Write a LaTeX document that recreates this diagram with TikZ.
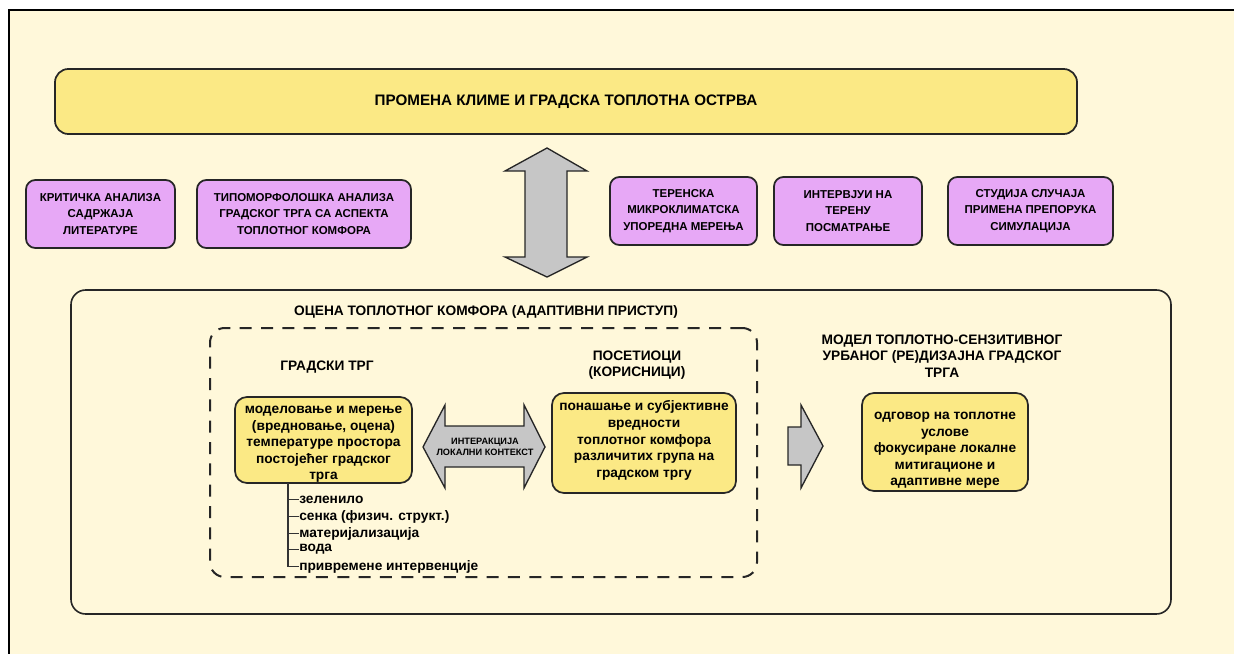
\documentclass[tikz,border=0pt]{standalone}
\usepackage{fontspec}
\setmainfont{Liberation Sans}
\definecolor{cream}{HTML}{FFF8DA}
\definecolor{ylw}{HTML}{FBE985}
\definecolor{lilac}{HTML}{E7A8F6}
\definecolor{grayarrow}{HTML}{C6C6C6}
\tikzset{
  pw/.style={minimum width=#1*0.75pt},
  ph/.style={minimum height=#1*0.75pt},
  pbox/.style={draw=black!85, line width=1.3pt, fill=lilac, rounded corners=7pt,
    align=center, inner sep=0pt, font=\bfseries\fontsize{8.6}{12.5}\selectfont},
  topbox/.style={draw=black!85, line width=1.3pt, fill=ylw, rounded corners=10pt,
    align=center, inner sep=0pt, font=\bfseries\fontsize{11.4}{13}\selectfont},
  ybox/.style={draw=black!85, line width=1.3pt, fill=ylw, rounded corners=9pt,
    align=center, inner sep=0pt, font=\bfseries\fontsize{10.3}{12.4}\selectfont},
  frame/.style={draw=black!85, line width=1.2pt, rounded corners=11pt, inner sep=0pt},
  dashframe/.style={draw=black!85, line width=1.5pt, rounded corners=11pt, inner sep=0pt,
    dash pattern=on 9pt off 7pt},
  head/.style={align=center, inner sep=0pt, font=\bfseries\fontsize{10.3}{12.4}\selectfont},
  item/.style={anchor=west, inner sep=0pt, font=\bfseries\fontsize{10.3}{12}\selectfont},
  blk/.style={draw=black!85, line width=1pt, fill=grayarrow, line join=miter},
  tree/.style={draw=black!80, line width=0.8pt},
  small/.style={align=center, inner sep=0pt, font=\bfseries\fontsize{6.9}{8.2}\selectfont}
}
\begin{document}
\begin{tikzpicture}[x=0.75pt,y=-0.75pt]
\useasboundingbox (0,0) rectangle (1234,653);
\clip (0,0) rectangle (1234,653);
\fill[white] (0,0) rectangle (1234,653);
\draw[fill=cream, line width=1.5pt] (9,10) rectangle (1260,680);

% top box
\node[topbox, pw=1022, ph=65] (top) at (566,101.5) {ПРОМЕНА КЛИМЕ И ГРАДСКА ТОПЛОТНА ОСТРВА};

% purple boxes
\node[pbox, pw=149, ph=68] (p1) at (100.5,214) {КРИТИЧКА АНАЛИЗА\\САДРЖАЈА\\ЛИТЕРАТУРЕ};
\node[pbox, pw=214, ph=68] (p2) at (304,214) {ТИПОМОРФОЛОШКА АНАЛИЗА\\ГРАДСКОГ ТРГА СА АСПЕКТА\\ТОПЛОТНОГ КОМФОРА};
\node[pbox, pw=147, ph=68] (p3) at (683.5,211) {ТЕРЕНСКА\\МИКРОКЛИМАТСКА\\УПОРЕДНА МЕРЕЊА};
\node[pbox, pw=148, ph=68] (p4) at (848,211) {ИНТЕРВЈУИ НА\\ТЕРЕНУ\\ПОСМАТРАЊЕ};
\node[pbox, pw=165, ph=68] (p5) at (1030.5,211) {СТУДИЈА СЛУЧАЈА\\ПРИМЕНА ПРЕПОРУКА\\СИМУЛАЦИЈА};

% vertical double arrow
\draw[blk] (547,148) -- (587,171) -- (567,171) -- (567,257) -- (587,257) -- (547,277)
  -- (505,257) -- (525,257) -- (525,171) -- (505,171) -- cycle;

% assessment frame
\node[frame, pw=1100, ph=324] (assess) at (621,452) {};
\node[head] (atitle) at (486,312) {ОЦЕНА ТОПЛОТНОГ КОМФОРА (АДАПТИВНИ ПРИСТУП)};
\node[dashframe, pw=547, ph=249] (dash) at (483.5,452.5) {};

\node[head] (sq) at (327,367) {ГРАДСКИ ТРГ};
\node[ybox, pw=177, ph=86] (y1) at (323.5,440) {\rule{0pt}{12.2pt}моделовање и мерење\\(вредновање, оцена)\\температуре простора\\постојећег градског\\трга};

\node[item] (i1) at (299,499.5) {зеленило};
\node[item] (i2) at (299,516.5) {сенка (физич. структ.)};
\node[item] (i3) at (299,533.5) {материјализација};
\node[item] (i4) at (299,549.5) {вода};
\node[item] (i5) at (299,566.5) {привремене интервенције};
\coordinate (stem) at (288,483);
\draw[tree] (stem) |- (i5.west);
\foreach \i in {1,2,3,4} { \draw[tree] (stem |- i\i.west) -- (i\i.west); }

% interaction arrow
\draw[blk] (423,447) -- (445,405) -- (445,426) -- (524,426) -- (524,405) -- (545,447)
  -- (524,488) -- (524,467) -- (445,467) -- (445,488) -- cycle;
\node[small] (inter) at (485,447) {ИНТЕРАКЦИЈА\\ЛОКАЛНИ КОНТЕКСТ};

\node[head] (vis) at (637,365) {ПОСЕТИОЦИ\\(КОРИСНИЦИ)};
\node[ybox, pw=184, ph=100] (y2) at (644,443) {понашање и субјективне\\вредности\\топлотног комфора\\различитих група на\\градском тргу\rule[-6pt]{0pt}{0pt}};

% right arrow
\draw[blk] (788,427) -- (801,427) -- (801,405) -- (823,446) -- (801,488) -- (801,465)
  -- (788,465) -- cycle;

\node[head] (model) at (942,356) {МОДЕЛ ТОПЛОТНО-СЕНЗИТИВНОГ\\УРБАНОГ (РЕ)ДИЗАЈНА ГРАДСКОГ\\ТРГА};
\node[ybox, pw=166, ph=98] (y3) at (945,442) {\rule{0pt}{18pt}одговор на топлотне\\услове\\фокусиране локалне\\митигационе и\\адаптивне мере};
\end{tikzpicture}
\end{document}
